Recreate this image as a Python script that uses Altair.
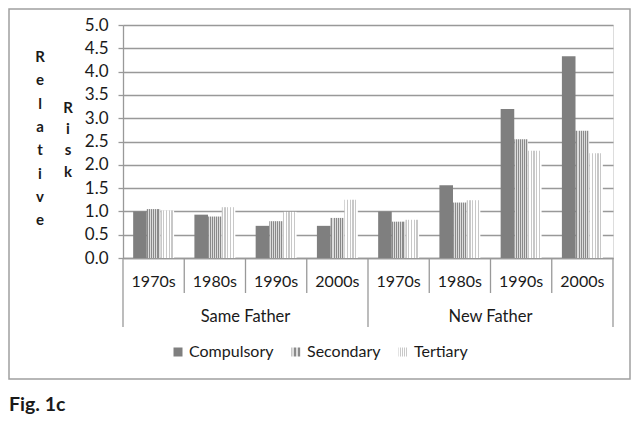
import altair as alt
import pandas as pd

groups = ["Same Father", "New Father"]
decades = ["1970s", "1980s", "1990s", "2000s"]
levels = ["Compulsory", "Secondary", "Tertiary"]
compulsory = [1.00, 0.93, 0.69, 0.69, 1.00, 1.56, 3.20, 4.33]
secondary = [1.05, 0.89, 0.79, 0.86, 0.78, 1.19, 2.55, 2.73]
tertiary = [1.02, 1.09, 0.99, 1.25, 0.82, 1.24, 2.30, 2.25]
y_ticks = [0.0, 0.5, 1.0, 1.5, 2.0, 2.5, 3.0, 3.5, 4.0, 4.5, 5.0]


def stripes(dark, light, n, frac):
    stops = []
    for i in range(n):
        a, b, c = i / n, (i + frac) / n, (i + 1) / n
        stops += [(a, dark), (b, dark), (b, light), (c, light)]
    body = ",".join("{offset:%.4f,color:'%s'}" % (o, col) for o, col in stops)
    return alt.ExprRef(expr="{gradient:'linear',x1:0,y1:0,x2:1,y2:0,stops:[" + body + "]}")


level_colors = [
    "#7f7f7f",
    stripes("#8a8a8a", "#dcdcdc", 7, 0.5),
    stripes("#c8c8c8", "#ffffff", 5, 0.45),
]

cats = [f"{g}|{d}" for g in groups for d in decades]
series = {"Compulsory": compulsory, "Secondary": secondary, "Tertiary": tertiary}

rows = []
for lvl in levels:
    for i, c in enumerate(cats):
        rows.append({"cat": c, "level": lvl, "value": series[lvl][i]})
bars_df = pd.DataFrame(rows)

labels_df = pd.DataFrame({"cat": cats, "decade": [c.split("|")[1] for c in cats]})
group_df = pd.DataFrame({"cat": [f"{g}|1980s" for g in groups], "group": groups})
inner_df = pd.DataFrame({"cat": [c for c in cats if not c.endswith("1970s")]})
outer_start_df = pd.DataFrame({"cat": [f"{g}|1970s" for g in groups]})
outer_end_df = pd.DataFrame({"cat": [cats[-1]]})

W, H = 490, 233
FONT = "Lato"
GRAY = "#999999"
TXT = "#1a1a1a"

xscale = alt.Scale(domain=cats, padding=0)
yscale = alt.Scale(domain=[0, 5], nice=False)

bars = alt.Chart(bars_df).mark_bar(size=13.6).encode(
    x=alt.X("cat:N", scale=xscale, sort=cats,
            axis=alt.Axis(labels=False, ticks=False, title=None, grid=False,
                          domainColor=GRAY, domainWidth=1.3)),
    xOffset=alt.XOffset("level:N", sort=levels,
                        scale=alt.Scale(paddingInner=0, paddingOuter=0.74)),
    y=alt.Y("value:Q", scale=yscale,
            axis=alt.Axis(values=y_ticks, format=".1f", title=None,
                          gridColor=GRAY, gridWidth=1.3, domainColor=GRAY,
                          domainWidth=1.3, tickColor=GRAY, tickWidth=1.3,
                          tickSize=5, labelPadding=10, labelFontSize=17,
                          labelColor=TXT, labelFont=FONT)),
    color=alt.Color("level:N", sort=levels,
                    scale=alt.Scale(domain=levels, range=level_colors),
                    legend=alt.Legend(orient="none", legendX=47, legendY=319,
                                      direction="horizontal", title=None,
                                      symbolType="square", symbolSize=81,
                                      symbolStrokeWidth=0, labelFontSize=16,
                                      labelFont=FONT, labelColor=TXT,
                                      labelOffset=3, columnPadding=14)),
)

inner_rules = alt.Chart(inner_df).mark_rule(color=GRAY, strokeWidth=1.3).encode(
    x=alt.X("cat:N", scale=xscale, sort=cats, bandPosition=0),
    y=alt.value(H), y2=alt.value(H + 35),
)
outer_rules = alt.Chart(outer_start_df).mark_rule(color=GRAY, strokeWidth=1.3).encode(
    x=alt.X("cat:N", scale=xscale, sort=cats, bandPosition=0),
    y=alt.value(H), y2=alt.value(H + 69),
)
end_rule = alt.Chart(outer_end_df).mark_rule(color=GRAY, strokeWidth=1.3).encode(
    x=alt.X("cat:N", scale=xscale, sort=cats, bandPosition=1),
    y=alt.value(H), y2=alt.value(H + 69),
)
decade_text = alt.Chart(labels_df).mark_text(
    font=FONT, fontSize=16, color=TXT, baseline="middle"
).encode(
    x=alt.X("cat:N", scale=xscale, sort=cats),
    y=alt.value(H + 24),
    text="decade:N",
)
group_text = alt.Chart(group_df).mark_text(
    font=FONT, fontSize=16.5, color=TXT, baseline="middle"
).encode(
    x=alt.X("cat:N", scale=xscale, sort=cats, bandPosition=1),
    y=alt.value(H + 59),
    text="group:N",
)
ytitle1 = alt.Chart(pd.DataFrame({"a": [0]})).mark_text(
    font=FONT, fontSize=15, fontWeight="bold", color=TXT,
    baseline="middle", lineHeight=23.3
).encode(
    x=alt.value(-83), y=alt.value(32),
    text=alt.value(list("Relative")),
)
ytitle2 = alt.Chart(pd.DataFrame({"a": [0]})).mark_text(
    font=FONT, fontSize=15, fontWeight="bold", color=TXT,
    baseline="middle", lineHeight=21.2
).encode(
    x=alt.value(-55), y=alt.value(83),
    text=alt.value(list("Risk")),
)
border = alt.Chart(pd.DataFrame({"a": [0]})).mark_rect(
    fill="transparent", stroke="#a0a0a0", strokeWidth=1.5
).encode(
    x=alt.value(-114), x2=alt.value(507),
    y=alt.value(-16), y2=alt.value(354),
)
fig_text = alt.Chart(pd.DataFrame({"a": [0]})).mark_text(
    font=FONT, fontSize=19.5, fontWeight="bold", color=TXT,
    align="left", baseline="middle"
).encode(
    x=alt.value(-114), y=alt.value(380),
    text=alt.value("Fig. 1c"),
)

chart = alt.layer(
    border, bars, inner_rules, outer_rules, end_rule, decade_text, group_text,
    ytitle1, ytitle2, fig_text
).properties(
    width=W, height=H,
    padding={"left": 115, "top": 17, "right": 18, "bottom": 171},
    autosize=alt.AutoSizeParams(type="none"),
).configure_view(stroke=None).configure(font=FONT)

chart.save("out.html", embed_options={"renderer": "svg", "actions": False})
